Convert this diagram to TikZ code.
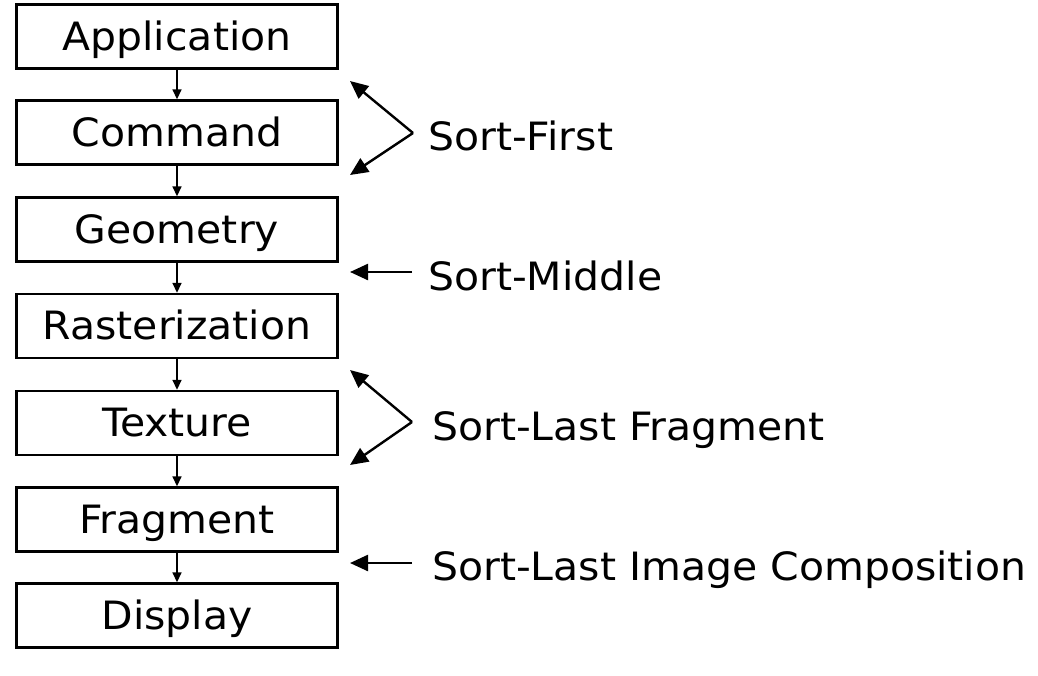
\documentclass[tikz,border=0pt]{standalone}
\usepackage{fontspec}
\setmainfont{DejaVu Sans}[FakeStretch=1.05]
\usetikzlibrary{arrows.meta}
\begin{document}
\begin{tikzpicture}[x=1pt,y=-1pt,
  stage/.style={draw, line width=2.4pt, minimum width=321pt, minimum height=64pt,
    inner sep=0pt, text height=27pt, text depth=0pt, font=\fontsize{39}{39}\selectfont},
  flow/.style={line width=1.6pt, -{Triangle[length=10pt,width=9pt]}},
  pointer/.style={line width=2.4pt, -{Triangle[length=18pt,width=16pt]}},
  tag/.style={anchor=base west, inner sep=0pt, font=\fontsize{39}{39}\selectfont}]
\useasboundingbox (0,0) rectangle (1038,675);

% pipeline stages
\node[stage] (app) at (177,36.5)  {Application};
\node[stage] (cmd) at (177,132.5) {Command};
\node[stage] (geo) at (177,229.5) {Geometry};
\node[stage] (ras) at (177,326)   {Rasterization};
\node[stage] (tex) at (177,423)   {Texture};
\node[stage] (frg) at (177,519.5) {Fragment};
\node[stage] (dsp) at (177,615.5) {Display};

\draw[flow] (app) -- (cmd);
\draw[flow] (cmd) -- (geo);
\draw[flow] (geo) -- (ras);
\draw[flow] (ras) -- (tex);
\draw[flow] (tex) -- (frg);
\draw[flow] (frg) -- (dsp);

% sorting classes
\node[tag] (sfirst) at (428,150) {Sort-First};
\node[tag] (smid)   at (428,290) {Sort-Middle};
\node[tag] (sfrag)  at (432,440) {Sort-Last Fragment};
\node[tag] (simg)   at (432,580) {Sort-Last Image Composition};

\coordinate (fa) at (413,133);
\coordinate (fu) at (350,81);
\coordinate (fl) at (350,175);
\draw[pointer] (fa) -- (fu);
\draw[pointer] (fa) -- (fl);

\coordinate (ma) at (412,272);
\coordinate (mt) at (350,272);
\draw[pointer] (ma) -- (mt);

\coordinate (ga) at (412,422);
\coordinate (gu) at (350,370);
\coordinate (gl) at (350,465);
\draw[pointer] (ga) -- (gu);
\draw[pointer] (ga) -- (gl);

\coordinate (ia) at (412,563);
\coordinate (it) at (350,563);
\draw[pointer] (ia) -- (it);
\end{tikzpicture}
\end{document}
